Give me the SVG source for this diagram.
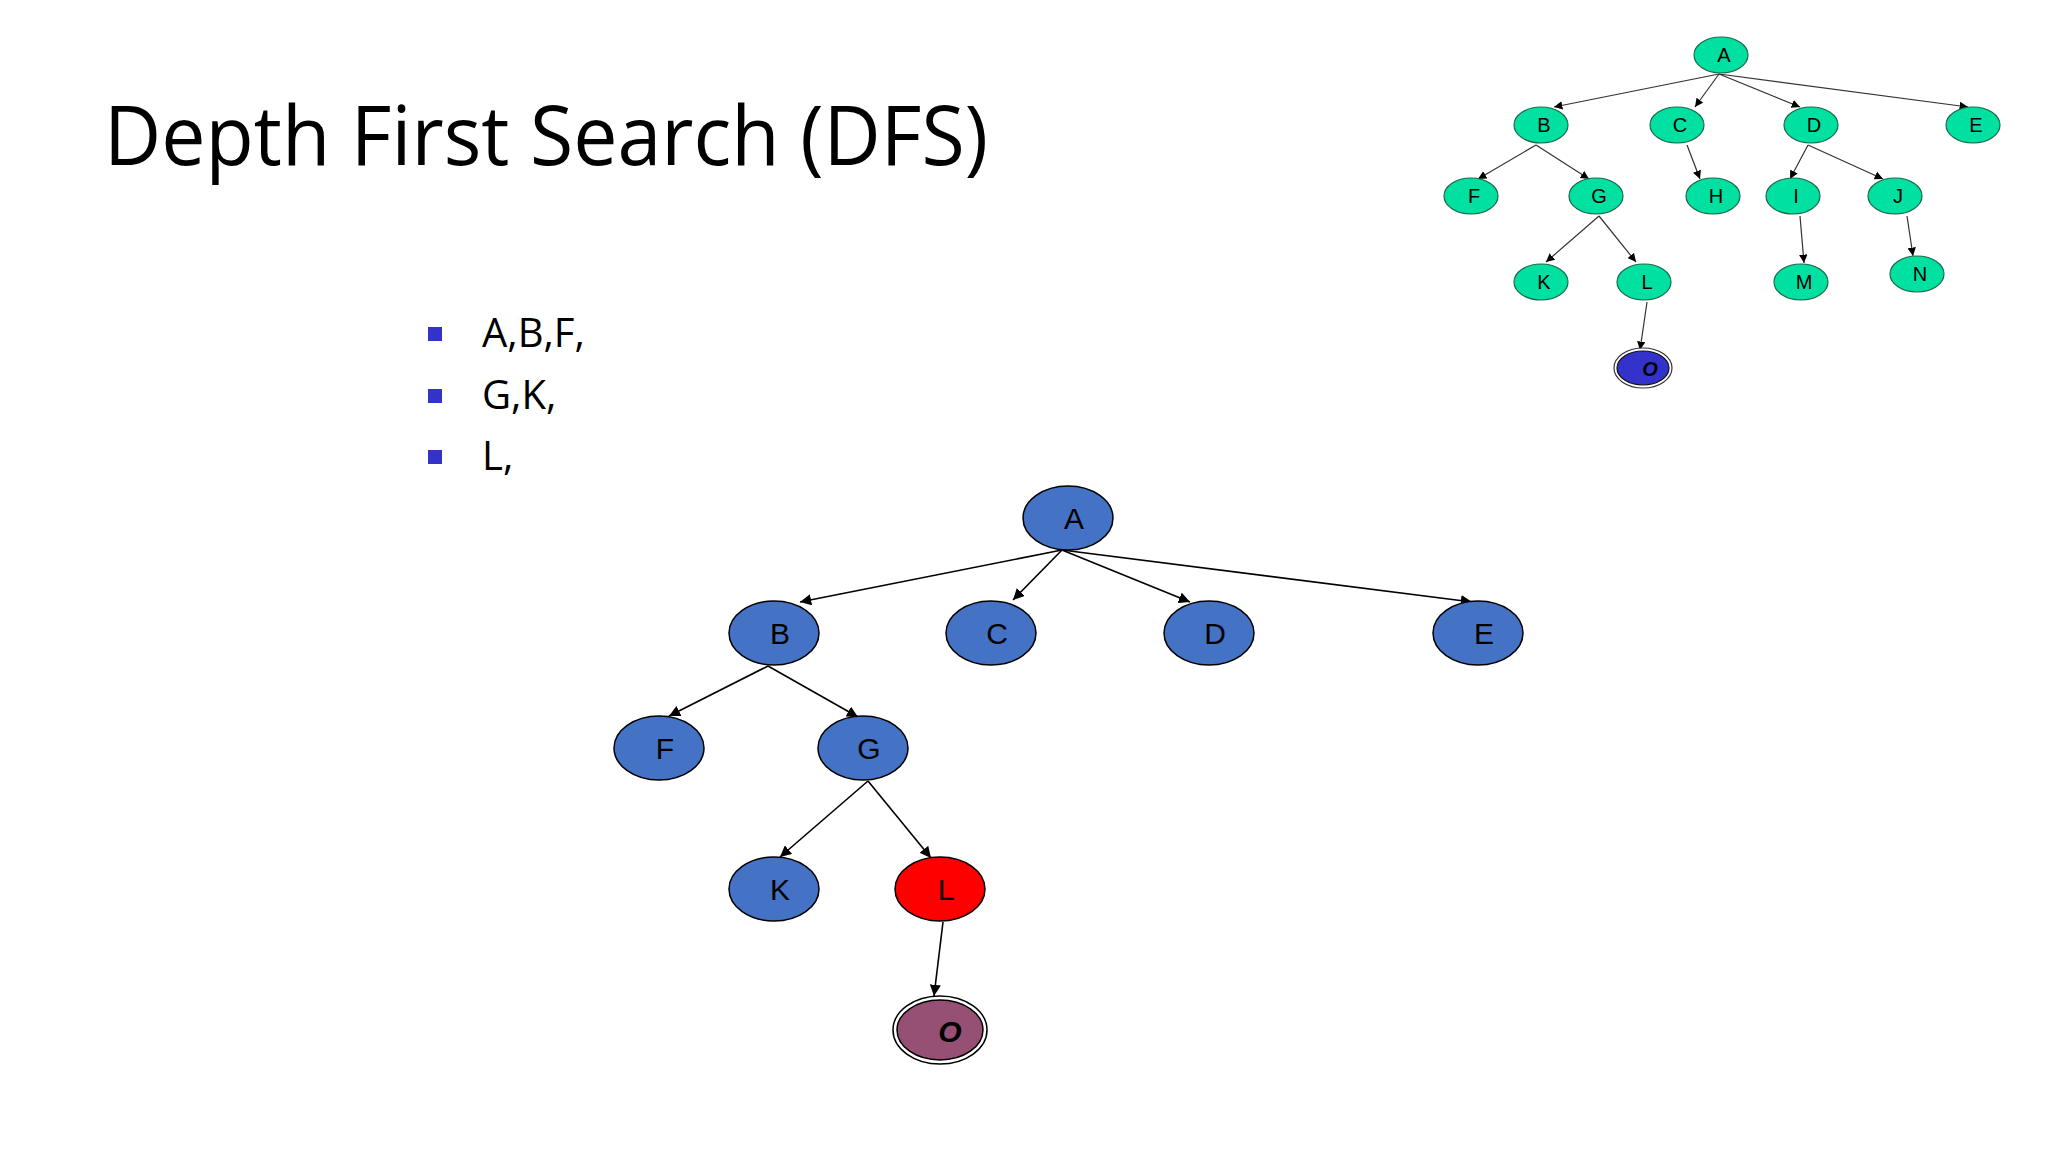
<svg xmlns="http://www.w3.org/2000/svg" width="2048" height="1152" viewBox="0 0 2048 1152">
<defs>
<marker id="ah" viewBox="0 0 10 10" refX="10" refY="5" markerWidth="7" markerHeight="7" orient="auto"><path d="M0,0 L10,5 L0,10 z" fill="#000"/></marker>
<marker id="ahs" viewBox="0 0 10 10" refX="10" refY="5" markerWidth="7" markerHeight="7" orient="auto"><path d="M0,0 L10,5 L0,10 z" fill="#000"/></marker>
</defs>
<style>
text{font-family:"Liberation Sans","DejaVu Sans",sans-serif}
.t{font-family:"Open Sans","Liberation Sans",sans-serif}
.bn{fill:#4472C4;stroke:#000;stroke-width:1.5}
.gn{fill:#00E0A0;stroke:#1a6a4a;stroke-width:1.2}
.bl{font-size:30px;text-anchor:middle;dominant-baseline:central}
.sl{font-size:20px;text-anchor:middle;dominant-baseline:central}
.e{stroke:#000;stroke-width:1.6;fill:none;marker-end:url(#ah)}
.es{stroke:#333;stroke-width:1.2;fill:none;marker-end:url(#ahs)}
</style>
<rect width="2048" height="1152" fill="#fff"/>
<text class="t" x="104" y="165" font-size="82" textLength="884" lengthAdjust="spacingAndGlyphs">Depth First Search (DFS)</text>
<g id="bullets">
<rect x="428" y="327" width="14" height="14" fill="#3333CC"/>
<rect x="428" y="389" width="14" height="14" fill="#3333CC"/>
<rect x="428" y="450" width="14" height="14" fill="#3333CC"/>
<text class="t" x="482" y="347" font-size="40">A,B,F,</text>
<text class="t" x="482" y="409" font-size="40">G,K,</text>
<text class="t" x="482" y="470" font-size="40">L,</text>
</g>
<g id="connectors">
<line class="e" x1="1062" y1="550" x2="800" y2="602"/>
<line class="e" x1="1062" y1="550" x2="1013" y2="600"/>
<line class="e" x1="1062" y1="550" x2="1190" y2="602"/>
<line class="e" x1="1062" y1="550" x2="1472" y2="602"/>
<line class="e" x1="768" y1="666" x2="669" y2="716"/>
<line class="e" x1="768" y1="666" x2="858" y2="717"/>
<line class="e" x1="868" y1="781" x2="780" y2="857"/>
<line class="e" x1="868" y1="781" x2="931" y2="858"/>
<line class="e" x1="943" y1="922" x2="934" y2="996"/>
<line class="es" x1="1719" y1="74" x2="1554" y2="107"/>
<line class="es" x1="1719" y1="74" x2="1695" y2="107"/>
<line class="es" x1="1719" y1="74" x2="1800" y2="107"/>
<line class="es" x1="1719" y1="74" x2="1968" y2="107"/>
<line class="es" x1="1536" y1="145" x2="1478" y2="179"/>
<line class="es" x1="1536" y1="145" x2="1589" y2="179"/>
<line class="es" x1="1687" y1="145" x2="1700" y2="179"/>
<line class="es" x1="1808" y1="145" x2="1790" y2="179"/>
<line class="es" x1="1808" y1="145" x2="1883" y2="179"/>
<line class="es" x1="1599" y1="216" x2="1546" y2="262"/>
<line class="es" x1="1599" y1="216" x2="1636" y2="262"/>
<line class="es" x1="1800" y1="216" x2="1804" y2="263"/>
<line class="es" x1="1907" y1="216" x2="1913" y2="256"/>
<line class="es" x1="1647" y1="302" x2="1640" y2="350"/>
</g>
<g id="b-A"><ellipse class="bn" cx="1068" cy="518" rx="45" ry="32"/><text class="bl" x="1074" y="518">A</text></g>
<g id="b-B"><ellipse class="bn" cx="774" cy="633" rx="45" ry="32"/><text class="bl" x="780" y="633">B</text></g>
<g id="b-C"><ellipse class="bn" cx="991" cy="633" rx="45" ry="32"/><text class="bl" x="997" y="633">C</text></g>
<g id="b-D"><ellipse class="bn" cx="1209" cy="633" rx="45" ry="32"/><text class="bl" x="1215" y="633">D</text></g>
<g id="b-E"><ellipse class="bn" cx="1478" cy="633" rx="45" ry="32"/><text class="bl" x="1484" y="633">E</text></g>
<g id="b-F"><ellipse class="bn" cx="659" cy="748" rx="45" ry="32"/><text class="bl" x="665" y="748">F</text></g>
<g id="b-G"><ellipse class="bn" cx="863" cy="748" rx="45" ry="32"/><text class="bl" x="869" y="748">G</text></g>
<g id="b-K"><ellipse class="bn" cx="774" cy="889" rx="45" ry="32"/><text class="bl" x="780" y="889">K</text></g>
<g id="b-L"><ellipse cx="940" cy="889" rx="45" ry="32" fill="#FF0000" stroke="#000" stroke-width="1.5"/><text class="bl" x="946" y="889">L</text></g>
<g id="b-O"><ellipse cx="940" cy="1030" rx="47" ry="34" fill="#fff" stroke="#000" stroke-width="1.5"/><ellipse cx="940" cy="1030" rx="43" ry="30" fill="#955073" stroke="#000" stroke-width="1.5"/><text class="bl" x="950" y="1031" font-weight="bold" font-style="italic">O</text></g>
<g id="s-A"><ellipse class="gn" cx="1721" cy="55" rx="27" ry="18"/><text class="sl" x="1724" y="55">A</text></g>
<g id="s-B"><ellipse class="gn" cx="1541" cy="125" rx="27" ry="18"/><text class="sl" x="1544" y="125">B</text></g>
<g id="s-C"><ellipse class="gn" cx="1677" cy="125" rx="27" ry="18"/><text class="sl" x="1680" y="125">C</text></g>
<g id="s-D"><ellipse class="gn" cx="1811" cy="125" rx="27" ry="18"/><text class="sl" x="1814" y="125">D</text></g>
<g id="s-E"><ellipse class="gn" cx="1973" cy="125" rx="27" ry="18"/><text class="sl" x="1976" y="125">E</text></g>
<g id="s-F"><ellipse class="gn" cx="1471" cy="196" rx="27" ry="18"/><text class="sl" x="1474" y="196">F</text></g>
<g id="s-G"><ellipse class="gn" cx="1596" cy="196" rx="27" ry="18"/><text class="sl" x="1599" y="196">G</text></g>
<g id="s-H"><ellipse class="gn" cx="1713" cy="196" rx="27" ry="18"/><text class="sl" x="1716" y="196">H</text></g>
<g id="s-I"><ellipse class="gn" cx="1793" cy="196" rx="27" ry="18"/><text class="sl" x="1796" y="196">I</text></g>
<g id="s-J"><ellipse class="gn" cx="1895" cy="196" rx="27" ry="18"/><text class="sl" x="1898" y="196">J</text></g>
<g id="s-K"><ellipse class="gn" cx="1541" cy="282" rx="27" ry="18"/><text class="sl" x="1544" y="282">K</text></g>
<g id="s-L"><ellipse class="gn" cx="1644" cy="282" rx="27" ry="18"/><text class="sl" x="1647" y="282">L</text></g>
<g id="s-M"><ellipse class="gn" cx="1801" cy="282" rx="27" ry="18"/><text class="sl" x="1804" y="282">M</text></g>
<g id="s-N"><ellipse class="gn" cx="1917" cy="274" rx="27" ry="18"/><text class="sl" x="1920" y="274">N</text></g>
<g id="s-O"><ellipse cx="1643" cy="368" rx="29" ry="20" fill="#fff" stroke="#333" stroke-width="1.2"/><ellipse cx="1643" cy="368" rx="26" ry="17" fill="#3333CC" stroke="#111" stroke-width="1.2"/><text class="sl" x="1650" y="369" font-weight="bold" font-style="italic">O</text></g>
</svg>
